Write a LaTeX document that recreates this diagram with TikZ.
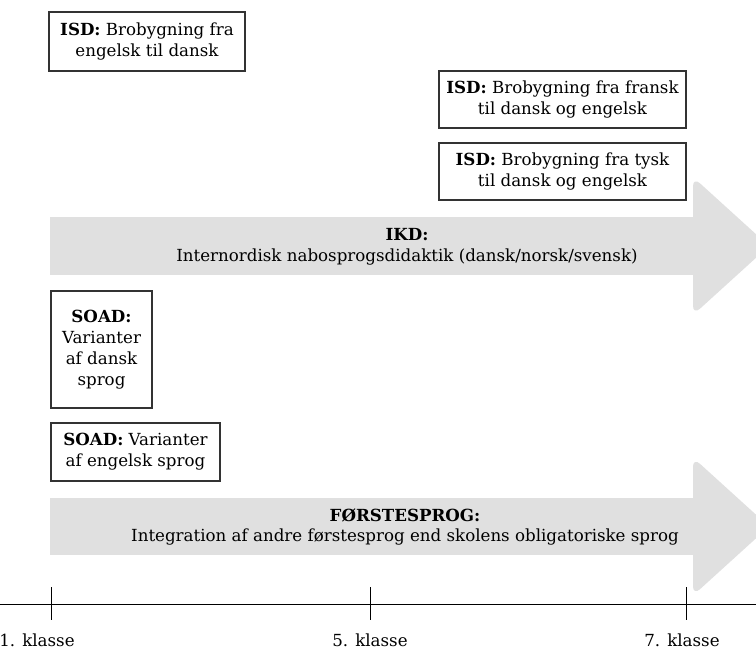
\documentclass[tikz,border=0pt]{standalone}
\usepackage{fontspec}
\setmainfont{DejaVu Serif}
\usetikzlibrary{positioning}
\definecolor{arrowgray}{RGB}{224,224,224}
\definecolor{boxline}{RGB}{51,51,51}
\begin{document}
\begin{tikzpicture}[x=0.75pt,y=-0.75pt,
  txt/.style={font=\fontsize{12.5}{15.6}\selectfont, align=center, inner sep=0pt},
  infobox/.style={txt, draw=boxline, line width=0.9pt, fill=white},
  bigarrow/.style={fill=arrowgray, draw=none},
  tickline/.style={line width=0.75pt, draw=black}]
\clip (0,0) rectangle (756,650);
\fill[white] (0,0) rectangle (756,650);

% arrows
\fill[bigarrow] (50,217) rectangle (700,275);
\fill[bigarrow, rounded corners=7pt] (693,177) -- (769,246) -- (693,315) -- cycle;
\node[txt] (ikd) at (407,247) {\textbf{IKD:}\\Internordisk nabosprogsdidaktik (dansk/norsk/svensk)};

\fill[bigarrow] (50,498) rectangle (700,555);
\fill[bigarrow, rounded corners=7pt] (693,457.5) -- (769,526.5) -- (693,595.5) -- cycle;
\node[txt] (fs) at (405,527) {\textbf{FØRSTESPROG:}\\Integration af andre førstesprog end skolens obligatoriske sprog};

% boxes
\node[infobox, minimum width=196*0.75pt, minimum height=59*0.75pt] (isd1) at (147,41.5) {\textbf{ISD:} Brobygning fra\\engelsk til dansk};
\node[infobox, minimum width=247*0.75pt, minimum height=57*0.75pt] (isd2) at (562.5,99.5) {\textbf{ISD:} Brobygning fra fransk\\til dansk og engelsk};
\node[infobox, minimum width=247*0.75pt, minimum height=57*0.75pt] (isd3) at (562.5,171.5) {\textbf{ISD:} Brobygning fra tysk\\til dansk og engelsk};
\node[infobox, minimum width=101*0.75pt, minimum height=117*0.75pt] (soad1) at (101.5,349.5) {\textbf{SOAD:}\\Varianter\\af dansk\\sprog};
\node[infobox, minimum width=169*0.75pt, minimum height=58*0.75pt] (soad2) at (135.5,452) {\textbf{SOAD:} Varianter\\af engelsk sprog};

% axis
\coordinate (axl) at (0,604);
\coordinate (axr) at (756,604);
\draw[tickline] (axl) -- (axr);
\coordinate (t1a) at (51,587); \coordinate (t1b) at (51,620);
\coordinate (t5a) at (370,587); \coordinate (t5b) at (370,620);
\coordinate (t7a) at (686,587); \coordinate (t7b) at (686,620);
\draw[tickline] (t1a) -- (t1b);
\draw[tickline] (t5a) -- (t5b);
\draw[tickline] (t7a) -- (t7b);
\node[txt] (l1) at (37,640) {1. klasse};
\node[txt] (l5) at (370,640) {5. klasse};
\node[txt] (l7) at (682,640) {7. klasse};
\end{tikzpicture}
\end{document}
